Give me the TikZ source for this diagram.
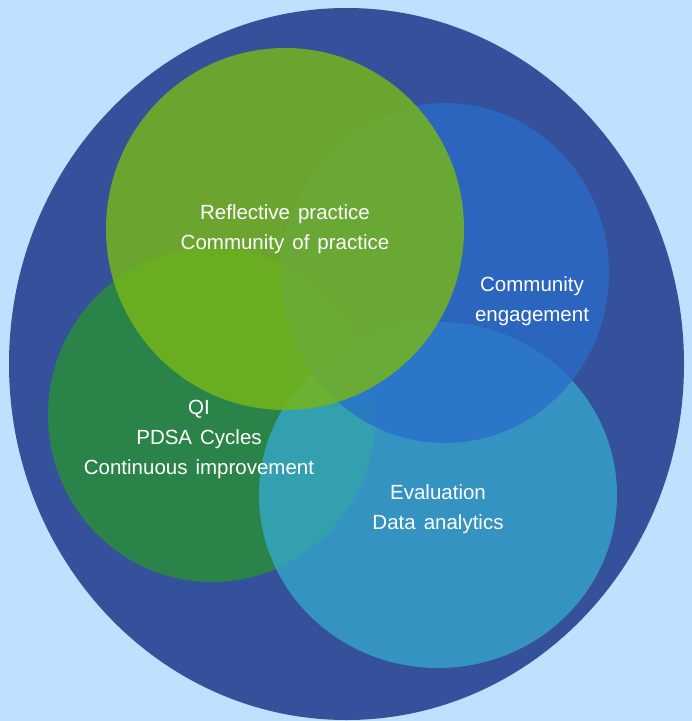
\documentclass[tikz,border=0pt]{standalone}
\usepackage{fontspec}
\setmainfont{Liberation Sans}
\newcommand\widewords{\spaceskip=8pt plus 1pt minus 1pt\relax}
\begin{document}
\begin{tikzpicture}[x=1pt,y=-1pt,
  lbl/.style={text=white, align=center, inner sep=0pt,
    font=\fontsize{20.5}{30}\selectfont\widewords}]
  \definecolor{bgsky}{HTML}{BFE0FF}
  \definecolor{outerblue}{HTML}{35519B}
  \definecolor{qigreen}{HTML}{2A8449}
  \definecolor{evalblue}{HTML}{35AAD0}
  \definecolor{commblue}{HTML}{286DCB}
  \definecolor{reflgreen}{HTML}{76B61A}

  % canvas
  \fill[bgsky] (0,0) rectangle (692,721);
  \useasboundingbox (0,0) rectangle (692,721);

  % enclosing field
  \fill[outerblue] (346.5,364) ellipse [x radius=337.5, y radius=356];

  % overlapping areas of practice
  \fill[qigreen] (212,415) ellipse [x radius=164, y radius=167];
  \fill[evalblue, fill opacity=0.75] (438,495) ellipse [x radius=179, y radius=173];
  \fill[commblue, fill opacity=0.75] (445,273) ellipse [x radius=164, y radius=170];
  \fill[reflgreen, fill opacity=0.83] (285,229) ellipse [x radius=179, y radius=181];

  % labels
  \node[lbl] (refl) at (285,229) {Reflective practice\\Community of practice};
  \node[lbl] (comm) at (532,301) {Community\\engagement};
  \node[lbl] (qi) at (199,439) {QI\\PDSA Cycles\\Continuous improvement};
  \node[lbl] (eval) at (438,509) {Evaluation\\Data analytics};
\end{tikzpicture}
\end{document}
